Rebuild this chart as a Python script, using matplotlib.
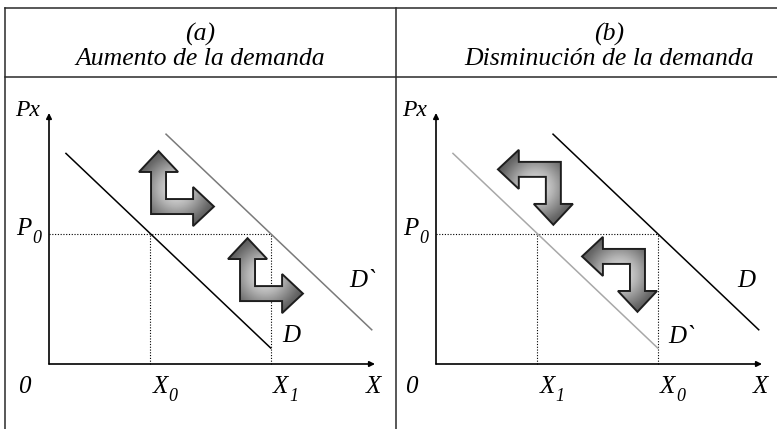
import matplotlib
matplotlib.use("Agg")
import matplotlib.pyplot as plt
import numpy as np
from matplotlib.lines import Line2D
from matplotlib.patches import Polygon
from matplotlib.colors import LinearSegmentedColormap

plt.rcParams["font.family"] = ["Liberation Serif", "DejaVu Serif"]

# ---- data (in quantity / price units) ----
titles = ["(a)", "(b)"]
subtitles = ["Aumento de la demanda", "Disminución de la demanda"]

X_LOW, X_HIGH = 3.1, 6.8
P0 = 4.0
X_AXIS_END, P_AXIS_END = 10.0, 7.7

# demand lines, endpoints
left_curve_x = [0.52, 6.80]
left_curve_p = [6.46, 0.49]
right_curve_x = [3.59, 9.90]
right_curve_p = [7.05, 1.05]

# quantity tick subscripts per panel (low, high)
qty_subs_a = ["0", "1"]
qty_subs_b = ["1", "0"]

# L-shaped shift arrows: outer corner of each arrow
arrows_a = [(3.13, 4.60), (5.86, 1.93)]   # up + right
arrows_b = [(3.83, 6.20), (6.41, 3.53)]   # left + down

# curve labels: (text, x, p)
labels_a = [("D", 7.15, 0.67), ("D`", 9.20, 2.36)]
labels_b = [("D", 9.23, 2.36), ("D`", 7.12, 0.64)]

# ---- layout helpers (pixels) ----
FW, FH = 777, 429
S = 32.6  # pixels per unit

fig = plt.figure(figsize=(FW / 100, FH / 100), dpi=100)


def px(x, y):
    return x / FW, 1 - y / FH


def add_panel(left, right, top, bottom, ox, oy):
    ax = fig.add_axes([left / FW, 1 - bottom / FH, (right - left) / FW, (bottom - top) / FH])
    ax.set_xlim((left - ox) / S, (right - ox) / S)
    ax.set_ylim((oy - bottom) / S, (oy - top) / S)
    ax.set_axis_off()
    return ax


cmap = LinearSegmentedColormap.from_list("metal", ["#eeeeee", "#b4b4b4", "#6a6a6a", "#383838"])


def l_arrow(ax, corner, u, v, L=1.93, w=0.46, H=1.2, h=0.64):
    # s along v-arm, t along u-arm
    e = (H - w) / 2
    st = [(0, 0), (L - h, 0), (L - h, -e), (L, w / 2), (L - h, w + e), (L - h, w),
          (w, w), (w, L - h), (w + e, L - h), (w / 2, L), (-e, L - h), (0, L - h)]
    cx, cy = corner
    verts = np.array([(cx + s * v[0] + t * u[0], cy + s * v[1] + t * u[1]) for s, t in st])
    x0, x1 = verts[:, 0].min(), verts[:, 0].max()
    y0, y1 = verts[:, 1].min(), verts[:, 1].max()
    gx, gy = np.meshgrid(np.linspace(x0, x1, 120), np.linspace(y0, y1, 120))
    mx, my = (x0 + x1) / 2, (y0 + y1) / 2
    r = np.hypot(gx - mx, gy - my) / (0.5 * np.hypot(x1 - x0, y1 - y0))
    poly = Polygon(verts, closed=True, facecolor="none", edgecolor="#1e1e1e", lw=1.4, zorder=6)
    ax.add_patch(poly)
    im = ax.imshow(r, extent=[x0, x1, y0, y1], origin="lower", cmap=cmap, vmin=0, vmax=1,
                   aspect="auto", zorder=5, interpolation="bilinear")
    im.set_clip_path(poly)


def sub_label(ax, x, y, main, sub, fs=18):
    t = ax.text(x, y, main, fontsize=fs, style="italic", ha="left", va="baseline")
    ax.annotate(sub, xy=(1, y), xycoords=(t, "data"), xytext=(0.3, -6), textcoords="offset points",
                fontsize=13, style="italic", ha="left", va="baseline")
    return t


def draw_panel(ax, old, new, new_color, qty_subs, arrows, u, v, labels):
    kw = dict(arrowstyle="-|>", color="black", lw=1.2, mutation_scale=8, shrinkA=0, shrinkB=0)
    ax.annotate("", xy=(X_AXIS_END, 0), xytext=(0, 0), arrowprops=kw)
    ax.annotate("", xy=(0, P_AXIS_END), xytext=(0, 0), arrowprops=kw)

    dot = dict(color="black", lw=0.8, linestyle=(0, (1, 1.5)))
    ax.plot([0, max(X_LOW, X_HIGH)], [P0, P0], **dot)
    ax.plot([X_LOW, X_LOW], [0, P0], **dot)
    ax.plot([X_HIGH, X_HIGH], [0, P0], **dot)

    ax.plot(old[0], old[1], color="black", lw=1.1)
    ax.plot(new[0], new[1], color=new_color, lw=1.1)

    for c in arrows:
        l_arrow(ax, c, u, v)

    fs = 18
    ax.text(-0.67, 7.6, "Px", fontsize=17, style="italic", ha="center", va="baseline")
    sub_label(ax, -1.0, 3.96, "P", "0")
    ax.text(-0.75, -0.89, "0", fontsize=fs, style="italic", ha="center", va="baseline")
    ax.text(9.95, -0.89, "X", fontsize=fs, style="italic", ha="center", va="baseline")
    sub_label(ax, X_LOW + 0.08, -0.89, "X", qty_subs[0])
    sub_label(ax, X_HIGH + 0.08, -0.89, "X", qty_subs[1])
    for t, x, p in labels:
        ax.text(x, p, t, fontsize=fs, style="italic", ha="left", va="baseline")


ax_a = add_panel(5, 396, 77, 429, 49, 364)
ax_b = add_panel(396, 777, 77, 429, 436, 364)

draw_panel(ax_a, (left_curve_x, left_curve_p), (right_curve_x, right_curve_p), "#7a7a7a",
           qty_subs_a, arrows_a, (0, 1), (1, 0), labels_a)
draw_panel(ax_b, (right_curve_x, right_curve_p), (left_curve_x, left_curve_p), "#a8a8a8",
           qty_subs_b, arrows_b, (0, -1), (-1, 0), labels_b)

# table frame
frame = dict(color="#2a2a2a", lw=1.1)
for (xa, ya), (xb, yb) in [((5, 8), (777, 8)), ((5, 77), (777, 77)),
                           ((5, 8), (5, 429)), ((396, 8), (396, 429))]:
    fig.add_artist(Line2D([px(xa, ya)[0], px(xb, yb)[0]], [px(xa, ya)[1], px(xb, yb)[1]],
                          transform=fig.transFigure, **frame))

for cx, t, st in [(200, titles[0], subtitles[0]), (609, titles[1], subtitles[1])]:
    fig.text(*px(cx, 34), t, fontsize=18.5, style="italic", ha="center", va="center")
    fig.text(*px(cx, 65), st, fontsize=18.5, style="italic", ha="center", va="baseline")

fig.savefig("out.png", dpi=100)
